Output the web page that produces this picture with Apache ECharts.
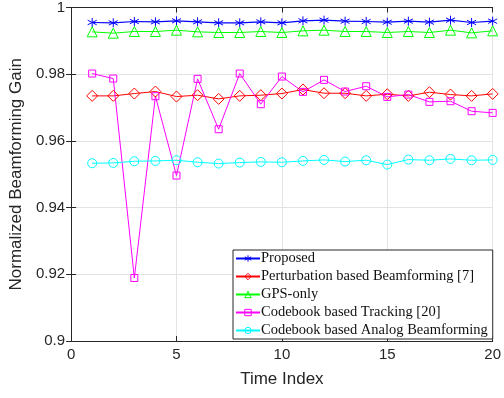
<!DOCTYPE html>
<html><head><meta charset="utf-8">
<script src="https://cdn.jsdelivr.net/npm/echarts@6/dist/echarts.min.js"></script>
<style>html,body{margin:0;padding:0;background:#fff}#c{width:504px;height:398px}</style>
</head><body><div id="c"></div>
<script>
const timeIndex = [1,2,3,4,5,6,7,8,9,10,11,12,13,14,15,16,17,18,19,20];
const proposed = [0.9955,0.9954,0.9958,0.9957,0.9960,0.9957,0.9954,0.9954,0.9957,0.9954,0.9960,0.9962,0.9959,0.9958,0.9956,0.9959,0.9956,0.9962,0.9955,0.9959];
const perturbation = [0.9735,0.9735,0.9742,0.9748,0.9733,0.9737,0.9726,0.9735,0.9737,0.9742,0.9754,0.9743,0.9743,0.9735,0.9740,0.9735,0.9746,0.9739,0.9735,0.9741];
const gpsOnly = [0.9927,0.9923,0.9928,0.9928,0.9932,0.9927,0.9925,0.9925,0.9928,0.9925,0.9930,0.9932,0.9928,0.9928,0.9925,0.9928,0.9925,0.9932,0.9924,0.9930];
const codebookTracking = [0.9802,0.9787,0.9189,0.9734,0.9496,0.9786,0.9635,0.9802,0.9710,0.9793,0.9747,0.9783,0.9748,0.9764,0.9732,0.9739,0.9717,0.9719,0.9689,0.9684];
const codebookAnalog = [0.9533,0.9534,0.9539,0.9540,0.9542,0.9536,0.9532,0.9535,0.9537,0.9536,0.9540,0.9543,0.9538,0.9542,0.9529,0.9544,0.9542,0.9546,0.9542,0.9543];
const seriesNames = ['Proposed','Perturbation based Beamforming [7]','GPS-only','Codebook based Tracking [20]','Codebook based Analog Beamforming'];
const xTicks = [0,5,10,15,20];
const yTicks = [0.9,0.92,0.94,0.96,0.98,1];

const star = 'path://M5,0L5,10M0.7,2.5L9.3,7.5M0.7,7.5L9.3,2.5';
function mk(name, vals, color, symbol, size, lw){
  return {
    name, type:'line', data: timeIndex.map((t,i)=>[t, vals[i]]),
    symbol, symbolSize:size, showAllSymbol:true,
    lineStyle:{color, width:lw},
    itemStyle:{color:'rgba(255,255,255,0)', borderColor:color, borderWidth:1},
    color, emphasis:{disabled:true}, animation:false, z:3
  };
}
const axisCol = '#262626';
const chart = echarts.init(document.getElementById('c'), null, {renderer:'canvas'});
chart.setOption({
  animation:false,
  grid:{left:71, right:7, top:7, bottom:57, containLabel:false},
  xAxis:[{
    type:'value', min:0, max:20, interval:5,
    name:'Time Index', nameLocation:'middle', nameGap:30,
    nameTextStyle:{fontFamily:'Liberation Sans', fontSize:17, color:axisCol},
    axisLine:{lineStyle:{color:axisCol, width:1}},
    axisTick:{inside:true, length:5, lineStyle:{color:axisCol}},
    axisLabel:{fontFamily:'Liberation Sans', fontSize:15, color:axisCol, margin:6},
    splitLine:{show:true, lineStyle:{color:'#e3e3e3', width:1}}
  },{
    type:'value', min:0, max:20, interval:5, position:'top',
    axisLine:{lineStyle:{color:axisCol}}, axisTick:{inside:true, length:5, lineStyle:{color:axisCol}},
    axisLabel:{show:false}, splitLine:{show:false}
  }],
  yAxis:[{
    type:'value', min:0.9, max:1, interval:0.02,
    name:'Normalized Beamforming Gain', nameLocation:'middle', nameGap:42,
    nameTextStyle:{fontFamily:'Liberation Sans', fontSize:17, color:axisCol},
    axisLine:{show:true, lineStyle:{color:axisCol}},
    axisTick:{show:true, inside:true, length:5, lineStyle:{color:axisCol}},
    axisLabel:{fontFamily:'Liberation Sans', fontSize:15, color:axisCol, margin:6,
      formatter:v=>String(parseFloat(v.toFixed(2)))},
    splitLine:{show:true, lineStyle:{color:'#e3e3e3', width:1}}
  },{
    type:'value', min:0.9, max:1, interval:0.02, position:'right',
    axisLine:{show:true, lineStyle:{color:axisCol}},
    axisTick:{show:true, inside:true, length:5, lineStyle:{color:axisCol}},
    axisLabel:{show:false}, splitLine:{show:false}
  }],
  legend:{
    orient:'vertical', left:233, top:250,
    backgroundColor:'#fff', borderColor:axisCol, borderWidth:1, borderRadius:0,
    padding:[1,5,1,2], itemGap:3, itemWidth:24, itemHeight:8,
    itemStyle:{color:'rgba(255,255,255,0)', borderColor:'inherit', borderWidth:1},
    textStyle:{fontFamily:'Liberation Serif', fontSize:14.5, lineHeight:14, color:'#111', padding:[0,0,0,-4]},
    data: seriesNames
  },
  series:[
    mk(seriesNames[0], proposed, '#0000ff', star, 9, 1.2),
    mk(seriesNames[1], perturbation, '#ff0000', 'diamond', 11, 1),
    mk(seriesNames[2], gpsOnly, '#00ff00', 'triangle', 10, 1),
    mk(seriesNames[3], codebookTracking, '#ff00ff', 'rect', 7, 1),
    mk(seriesNames[4], codebookAnalog, '#00ffff', 'circle', 9, 1)
  ]
});
</script></body></html>
